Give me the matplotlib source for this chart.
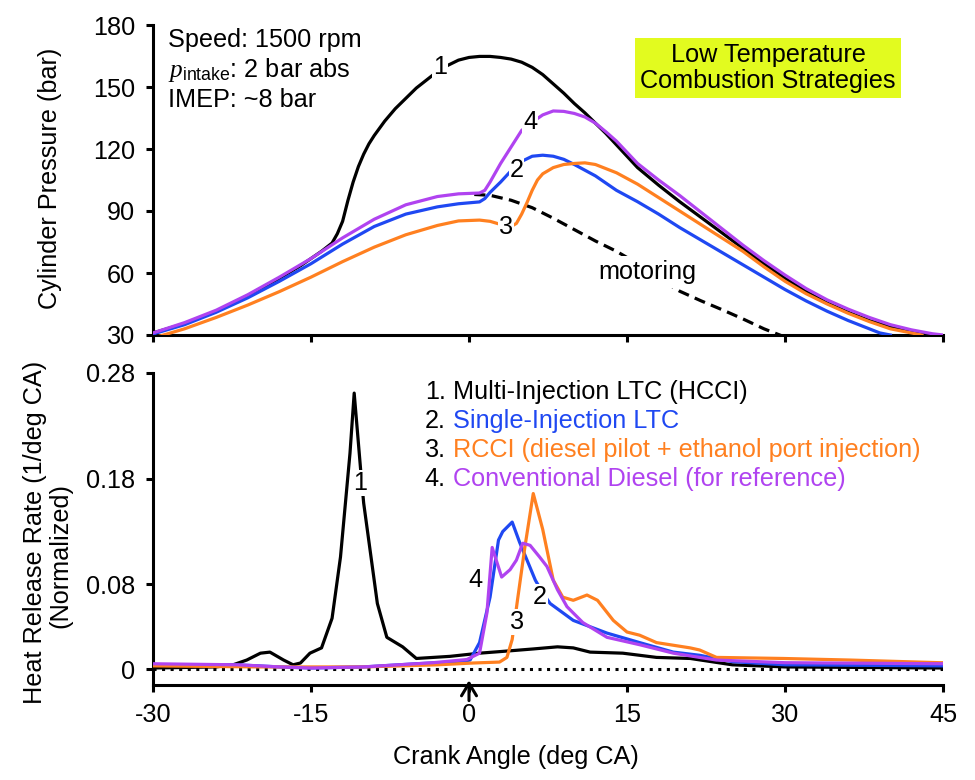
import matplotlib
matplotlib.use("Agg")
import matplotlib.pyplot as plt
from matplotlib.patches import Rectangle

plt.rcParams["font.family"] = ["Liberation Sans", "DejaVu Sans"]
plt.rcParams["font.size"] = 18.2
plt.rcParams["mathtext.fontset"] = "custom"
plt.rcParams["mathtext.rm"] = "Liberation Sans"
plt.rcParams["mathtext.it"] = "Liberation Serif:italic"

BLACK = "#000000"
BLUE = "#1f48f2"
ORANGE = "#ff8020"
PURPLE = "#b043f0"

# ---- cylinder pressure (bar) vs crank angle ----
p_x1 = [-30, -27, -24, -21, -18, -16, -15, -14, -13, -12.5, -12, -11.5, -11, -10.5, -10, -9.5, -9, -8, -7,
        -6, -5, -4, -3, -2, -1, 0, 1, 2, 3, 4, 5, 6, 7, 8, 9, 10, 11, 12, 13, 14, 16, 18, 20, 22, 24, 26,
        28, 30, 32, 34, 36, 38, 40, 42, 43, 44]
p_y1 = [31, 35.5, 41.5, 49, 57.5, 63.5, 67, 70.5, 74.5, 79, 85, 95, 104, 111.5, 117.5, 122.5, 126.5,
        133.5, 139.5, 144.5, 149.5, 153.5, 157.5, 160.5, 163, 164.3, 164.8, 164.8, 164.3, 163.5, 162,
        159.5, 156, 151.5, 147, 142, 137.5, 132.5, 127.5, 122, 111, 102.5, 94.5, 87, 79.5, 72, 64.5, 57.5,
        51, 45.5, 41, 37, 34, 31.5, 30.5, 30]

p_x2 = [-30, -27, -24, -21, -18, -15, -12, -9, -6, -3, -1, 1, 1.5, 2, 3, 4, 5, 6, 7, 8, 9, 10, 12, 14,
        16, 18, 20, 22, 24, 26, 28, 30, 32, 34, 36, 38, 39, 40]
p_y2 = [30.5, 35, 41, 48, 56, 64.5, 74, 82.5, 88.5, 92, 93.5, 94.4, 96, 99, 104, 109.5, 114, 116.5, 117,
        116.5, 115, 112.5, 107, 100, 94.5, 88.5, 82, 76, 70, 64, 58, 52, 46.5, 41.5, 37, 33, 31, 30]

p_x3 = [-30, -27, -24, -21, -18, -15, -12, -9, -6, -3, -1, 1, 2, 3, 3.5, 4, 4.5, 5, 5.5, 6, 6.5, 7, 8, 9,
        10, 11, 12, 13, 14, 16, 18, 20, 22, 24, 26, 28, 30, 32, 34, 36, 38, 40, 42, 43]
p_y3 = [28.5, 33, 38.5, 44.5, 51, 58, 65.5, 72.5, 78.5, 83, 85.2, 85.6, 85, 83.5, 82.5, 82.5, 84, 88.5, 94,
        100, 105, 108, 111, 112.5, 113, 113.3, 112.5, 110.5, 108.5, 103, 96.5, 90, 83.5, 77, 70.5, 63,
        56, 50, 45, 40.5, 36.5, 33, 31, 30]

p_x4 = [-30, -27, -24, -21, -18, -15, -12, -9, -6, -3, -1, 1, 1.5, 2, 3, 4, 5, 6, 7, 8, 9, 10, 11, 12,
        13, 14, 16, 18, 20, 22, 24, 26, 28, 30, 32, 34, 36, 38, 40, 42, 44, 45]
p_y4 = [31, 36, 42, 49.5, 58, 67, 77, 86, 93, 97, 98.3, 98.7, 100, 104, 113, 121, 129, 133, 136.5, 138.4,
        138.2, 137.2, 135.5, 132.5, 128.3, 123.8, 113, 105, 97.5, 89.5, 81.5, 73.5, 66, 59, 52.5, 47,
        42.5, 38.5, 35, 32.5, 30.6, 30]

mot_x = [0.5, 2, 4, 6, 8, 10, 12, 14, 16, 18, 20, 22, 24, 26, 28, 30]
mot_y = [98, 97.6, 95.2, 91.6, 86.5, 81, 75.5, 70.5, 64.5, 57.5, 51.2, 46.6, 42.3, 37.8, 33, 29]

# ---- normalized heat release rate ----
h_x1 = [-30, -24, -22.4, -21.1, -19.8, -18.9, -17.6, -16.7, -16, -15.1, -14, -13, -12.2, -11.3, -10.9,
        -10.3, -10.0, -8.7, -7.8, -6.3, -5, -3.4, -1.8, 1, 3.6, 6.1, 8.4, 9.9, 11.5, 14.6, 17.8, 21, 25,
        30, 45]
h_y1 = [0.001, 0.002, 0.004, 0.0085, 0.015, 0.016, 0.0085, 0.004, 0.0057, 0.015, 0.020, 0.048, 0.106,
        0.204, 0.261, 0.19, 0.157, 0.062, 0.030, 0.021, 0.010, 0.011, 0.012, 0.015, 0.017, 0.019, 0.021,
        0.020, 0.016, 0.015, 0.011, 0.010, 0.004, 0.002, 0.001]

h_x2 = [-30, -22, -18, -15, -10, -5, -0.8, 0.1, 1, 2, 2.8, 3.2, 4.1, 4.8, 6.3, 7.0, 7.7, 9.9, 13.1, 16.2,
        19.4, 21.9, 25, 30, 45]
h_y2 = [0.004, 0.004, 0.002, 0.001, 0.002, 0.005, 0.007, 0.0085, 0.025, 0.068, 0.122, 0.130, 0.139, 0.120,
        0.084, 0.072, 0.062, 0.046, 0.034, 0.025, 0.016, 0.013, 0.007, 0.004, 0.003]

h_x3 = [-30, -20, -10, -3, 0.4, 2.9, 3.6, 4.1, 4.6, 5.3, 6.1, 7.0, 8.0, 8.9, 9.9, 11.2, 12.2, 13.7, 15.0,
        16.2, 17.8, 21.0, 21.9, 23.5, 29.8, 36.2, 44.7, 45]
h_y3 = [0.003, 0.002, 0.002, 0.004, 0.0057, 0.0066, 0.011, 0.028, 0.065, 0.115, 0.166, 0.132, 0.084,
        0.068, 0.065, 0.070, 0.065, 0.046, 0.035, 0.032, 0.025, 0.020, 0.018, 0.011, 0.010, 0.0085,
        0.006, 0.006]

h_x4 = [-30, -22, -18, -15, -10, -5, -3.4, -0.2, 1, 1.7, 2.2, 3.1, 3.9, 4.5, 5.1, 5.8, 6.7, 7.4, 8.4, 9.3,
        10.8, 13.1, 16.2, 19.4, 21.9, 23.5, 30, 45]
h_y4 = [0.005, 0.004, 0.002, 0.001, 0.002, 0.005, 0.006, 0.009, 0.015, 0.053, 0.115, 0.087, 0.094, 0.103,
        0.119, 0.117, 0.106, 0.097, 0.075, 0.059, 0.044, 0.030, 0.023, 0.015, 0.011, 0.0085, 0.006, 0.005]

legend_nums = ["1.", "2.", "3.", "4."]
legend_texts = ["Multi-Injection LTC (HCCI)", "Single-Injection LTC",
                "RCCI (diesel pilot + ethanol port injection)", "Conventional Diesel (for reference)"]
legend_colors = [BLACK, BLUE, ORANGE, PURPLE]

x_ticks = [-30, -15, 0, 15, 30, 45]

W, H = 975, 780
fig = plt.figure(figsize=(W / 100, H / 100), dpi=100)
ax1 = fig.add_axes([153 / W, 1 - 335 / H, 790 / W, 310 / H])
ax2 = fig.add_axes([153 / W, 1 - 685 / H, 790 / W, 312 / H])

for ax in (ax1, ax2):
    for s in ("top", "right"):
        ax.spines[s].set_visible(False)
    for s in ("left", "bottom"):
        ax.spines[s].set_linewidth(2.2)
    ax.tick_params(width=2.2, length=5, direction="out", labelsize=18.2, pad=8)
    ax.set_xlim(-30, 45)
    ax.set_xticks(x_ticks)

lw = 2.3
bb = dict(facecolor="white", edgecolor="none", pad=0.5)

# top panel
ax1.set_ylim(30, 180)
ax1.set_yticks([30, 60, 90, 120, 150, 180])
ax1.tick_params(axis="x", labelbottom=False)
ax1.plot(mot_x, mot_y, color=BLACK, lw=lw, ls=(0, (3.5, 2)), zorder=2)
ax1.plot(p_x1, p_y1, color=BLACK, lw=lw, zorder=3)
ax1.plot(p_x2, p_y2, color=BLUE, lw=lw, zorder=3)
ax1.plot(p_x3, p_y3, color=ORANGE, lw=lw, zorder=3)
ax1.plot(p_x4, p_y4, color=PURPLE, lw=lw, zorder=3)
ax1.text(-2.75, 159.8, "1", ha="center", va="center", bbox=bb, zorder=5)
ax1.text(5.8, 133.2, "4", ha="center", va="center", bbox=bb, zorder=5)
ax1.text(4.5, 109.8, "2", ha="center", va="center", bbox=bb, zorder=5)
ax1.text(3.5, 82.4, "3", ha="center", va="center", bbox=bb, zorder=5)
ax1.text(16.9, 60.6, "motoring", ha="center", va="center",
         bbox=dict(facecolor="white", edgecolor="none", pad=3), zorder=5)

fig.text(168 / W, 1 - 40 / H, "Speed: 1500 rpm", ha="left", va="center")
fig.text(168 / W, 1 - 70 / H, r"$p_{\mathrm{intake}}$: 2 bar abs", ha="left", va="center")
fig.text(168 / W, 1 - 100 / H, "IMEP: ~8 bar", ha="left", va="center")

fig.patches.append(Rectangle((635 / W, 1 - 98 / H), 266 / W, 60 / H, transform=fig.transFigure,
                             facecolor="#e2fb1f", edgecolor="none"))
fig.text(768 / W, 1 - 68 / H, "Low Temperature\nCombustion Strategies", ha="center", va="center",
         linespacing=1.1)

fig.text(50 / W, 1 - 178 / H, "Cylinder Pressure (bar)", rotation=90, ha="center", va="center")

# bottom panel
ax2.set_ylim(-0.0151, 0.28)
ax2.set_yticks([0, 0.08, 0.18, 0.28])
ax2.set_yticklabels(["0", "0.08", "0.18", "0.28"])
ax2.set_xticklabels([str(t) for t in x_ticks])
ax2.axhline(0, color=BLACK, lw=2.2, ls=(0, (1, 1.8)), zorder=1.5)
ax2.plot(h_x1, h_y1, color=BLACK, lw=lw, zorder=3)
ax2.plot(h_x2, h_y2, color=BLUE, lw=lw, zorder=3)
ax2.plot(h_x3, h_y3, color=ORANGE, lw=lw, zorder=3)
ax2.plot(h_x4, h_y4, color=PURPLE, lw=lw, zorder=3)
ax2.text(-10.35, 0.176, "1", ha="center", va="center", bbox=bb, zorder=5)
ax2.text(0.6, 0.084, "4", ha="center", va="center", bbox=bb, zorder=5)
ax2.text(6.75, 0.068, "2", ha="center", va="center", bbox=bb, zorder=5)
ax2.text(4.55, 0.0445, "3", ha="center", va="center", bbox=bb, zorder=5)

legend_y = [0.262, 0.2346, 0.2072, 0.1798]
for num, txt, col, y in zip(legend_nums, legend_texts, legend_colors, legend_y):
    ax2.text(-4.2, y, num, ha="left", va="center", color=BLACK)
    ax2.text(-1.55, y, txt, ha="left", va="center", color=col)

ax2.annotate("", xy=(0, 0.015), xytext=(0, -0.05), xycoords=ax2.get_xaxis_transform(),
             arrowprops=dict(arrowstyle="->,head_length=0.5,head_width=0.3", lw=2.2, color=BLACK,
                             mutation_scale=18, shrinkA=0, shrinkB=0),
             annotation_clip=False, zorder=6)

fig.text(35 / W, 1 - 532 / H, "Heat Release Rate (1/deg CA)", rotation=90, ha="center", va="center")
fig.text(60 / W, 1 - 555 / H, "(Normalized)", rotation=90, ha="center", va="center")
fig.text(516 / W, 1 - 757 / H, "Crank Angle (deg CA)", ha="center", va="center")

fig.savefig("out.png", dpi=100, facecolor="white")
